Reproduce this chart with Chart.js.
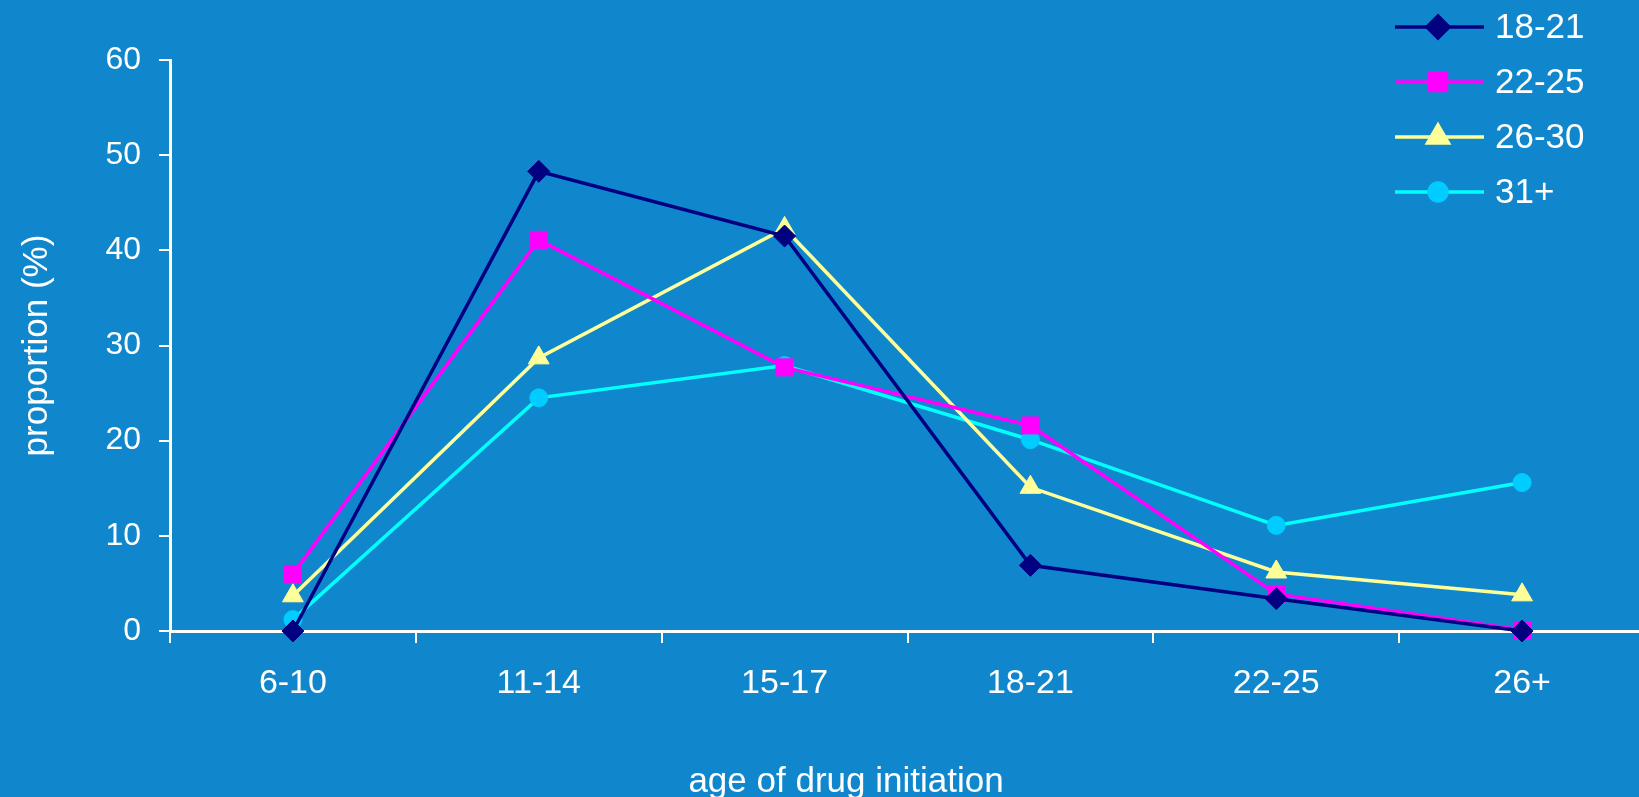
<!DOCTYPE html>
<html>
<head>
<meta charset="utf-8">
<script src="https://cdn.jsdelivr.net/npm/chart.js@4/dist/chart.umd.min.js"></script>
<style>
  html, body { margin: 0; padding: 0; background: #1087cc; overflow: hidden; }
  /* the original x axis runs slightly past the right edge of the picture */
  #wrap { width: 1658px; height: 797px; position: relative; }
</style>
</head>
<body>
<div id="wrap"><canvas id="myChart"></canvas></div>
<script>
const ageGroups = ['6-10', '11-14', '15-17', '18-21', '22-25', '26+'];
const yTicks = [0, 10, 20, 30, 40, 50, 60];
const seriesNames = ['18-21', '22-25', '26-30', '31+'];
const age18to21 = [0, 48.3, 41.5, 6.9, 3.4, 0];
const age22to25 = [6.0, 41.1, 27.7, 21.6, 3.9, 0.1];
const age26to30 = [3.7, 28.7, 42.3, 15.1, 6.2, 3.8];
const age31plus = [1.2, 24.5, 27.9, 20.1, 11.1, 15.6];

const FONT = '"Liberation Sans", Arial, sans-serif';

// legend drawn by hand: line with marker in the middle, over the plot
const lineLegend = {
    id: 'lineLegend',
    afterDraw(chart) {
        const ctx = chart.ctx;
        ctx.save();
        chart.data.datasets.forEach((ds, i) => {
            const y = 27 + i * 55;
            ctx.strokeStyle = ds.borderColor;
            ctx.lineWidth = 3.5;
            ctx.beginPath();
            ctx.moveTo(1395, y);
            ctx.lineTo(1484, y);
            ctx.stroke();
            ctx.fillStyle = ds.pointBackgroundColor;
            ctx.strokeStyle = ds.pointBorderColor;
            Chart.helpers.drawPoint(ctx, {
                pointStyle: ds.pointStyle,
                radius: ds.pointRadius,
                rotation: 0,
                borderWidth: 1
            }, 1438, y);
            ctx.fillStyle = '#ffffff';
            ctx.font = '35px ' + FONT;
            ctx.textBaseline = 'middle';
            ctx.textAlign = 'left';
            ctx.fillText(ds.label, 1495, y + 1);
        });
        ctx.restore();
    }
};

// x axis title sits a little left of the plot centre in the original
const xTitle = {
    id: 'xTitle',
    afterDraw(chart) {
        const ctx = chart.ctx;
        ctx.save();
        ctx.fillStyle = '#ffffff';
        ctx.font = '35px ' + FONT;
        ctx.textAlign = 'center';
        ctx.textBaseline = 'middle';
        ctx.fillText('age of drug initiation', 846, 782);
        ctx.restore();
    }
};

const bg = {
    id: 'bg',
    beforeDraw(chart) {
        const ctx = chart.ctx;
        ctx.save();
        ctx.fillStyle = '#1087cc';
        ctx.fillRect(0, 0, chart.width, chart.height);
        ctx.restore();
    }
};

const ctx = document.getElementById('myChart').getContext('2d');

new Chart(ctx, {
    type: 'line',
    data: {
        labels: ageGroups,
        datasets: [{
            label: seriesNames[0],
            data: age18to21,
            borderColor: '#000080',
            pointBackgroundColor: '#000080',
            pointBorderColor: '#000080',
            pointStyle: 'rectRot',
            pointRadius: 11
        }, {
            label: seriesNames[1],
            data: age22to25,
            borderColor: '#ff00ff',
            pointBackgroundColor: '#ff00ff',
            pointBorderColor: '#ff00ff',
            pointStyle: 'rect',
            pointRadius: 12
        }, {
            label: seriesNames[2],
            data: age26to30,
            borderColor: '#ffff99',
            pointBackgroundColor: '#ffff99',
            pointBorderColor: '#ffff99',
            pointStyle: 'triangle',
            pointRadius: 12
        }, {
            label: seriesNames[3],
            data: age31plus,
            borderColor: '#00ffff',
            pointBackgroundColor: '#00ccff',
            pointBorderColor: '#00ccff',
            pointStyle: 'circle',
            pointRadius: 9
        }]
    },
    options: {
        responsive: true,
        maintainAspectRatio: false,
        animation: false,
        datasets: {
            line: {
                borderWidth: 3.5,
                tension: 0,
                pointBorderWidth: 1,
                pointHoverRadius: 10,
                clip: false
            }
        },
        layout: {
            padding: { top: 60, right: 0, left: 0, bottom: 0 }
        },
        plugins: {
            legend: { display: false },
            tooltip: { enabled: false }
        },
        scales: {
            x: {
                offset: true,
                grid: {
                    offset: true,
                    drawOnChartArea: false,
                    drawTicks: true,
                    tickLength: 12,
                    color: '#ffffff',
                    lineWidth: 2
                },
                border: { color: '#ffffff', width: 3 },
                ticks: {
                    color: '#ffffff',
                    font: { size: 34, family: FONT },
                    padding: 20,
                    maxRotation: 0
                },
                afterFit(scale) { scale.height = 166; }
            },
            y: {
                min: 0,
                max: 60,
                afterBuildTicks(scale) { scale.ticks = yTicks.map(v => ({ value: v })); },
                grid: {
                    drawOnChartArea: false,
                    drawTicks: true,
                    tickLength: 11,
                    color: '#ffffff',
                    lineWidth: 2
                },
                border: { color: '#ffffff', width: 3 },
                ticks: {
                    color: '#ffffff',
                    font: { size: 32, family: FONT },
                    padding: 18
                },
                title: {
                    display: true,
                    text: 'proportion (%)',
                    color: '#ffffff',
                    font: { size: 35, family: FONT },
                    padding: { top: 16, bottom: 0 }
                },
                afterFit(scale) { scale.width = 170; }
            }
        }
    },
    plugins: [bg, lineLegend, xTitle]
});
</script>
</body>
</html>
